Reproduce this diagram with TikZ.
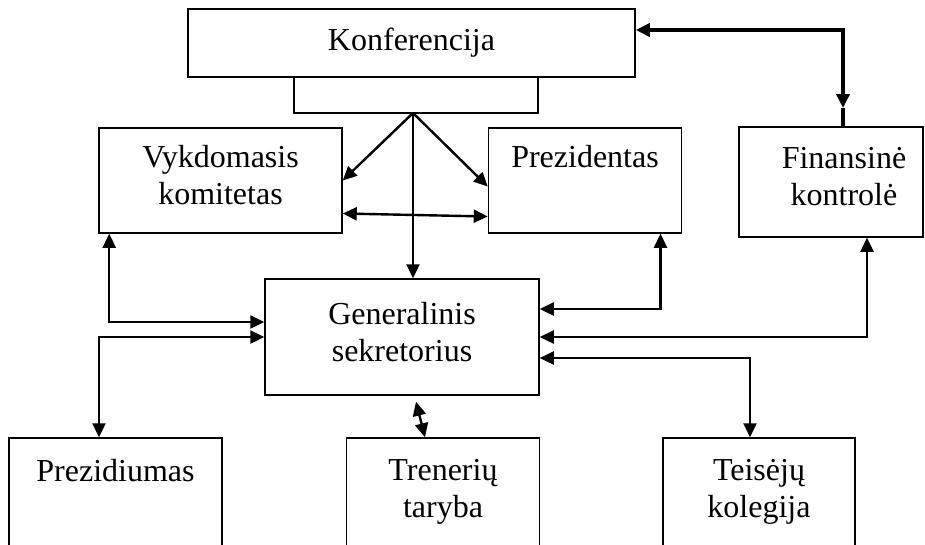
\documentclass[tikz,border=0pt]{standalone}
\usepackage{fontspec}
\setmainfont{Liberation Serif}
\usetikzlibrary{arrows.meta,positioning}

\begin{document}
\begin{tikzpicture}[
    x=1pt, y=-1pt,
    >={Triangle[length=14pt,width=13pt]},
    box/.style={rectangle, draw, line width=1.5pt, align=center, inner sep=0pt, font=\fontsize{32}{37}\selectfont},
    link/.style={line width=2.4pt, ->},
    both/.style={line width=2.4pt, <->},
    heavy/.style={line width=3.6pt},
    bracket/.style={line width=1.5pt},
]
    \useasboundingbox (0,0) rectangle (925,544);
    \clip (0,0) rectangle (925,544);

    \node[box, minimum width=447pt, minimum height=68pt] (konf) at (411.5,43) {Konferencija};
    \node[box, minimum width=243pt, minimum height=105pt] (vyk) at (220.5,180.5) {Vykdomasis\\komitetas\strut};
    \node[box, minimum width=193pt, minimum height=105pt, right=145pt of vyk] (prez) {Prezidentas\\\strut};
    \node[box, minimum width=184pt, minimum height=110pt] (fin) at (831,182) {\hspace*{26pt}Finansinė\\\hspace*{26pt}kontrolė\strut};
    \node[box, minimum width=274pt, minimum height=116pt] (gen) at (402,337) {Generalinis\\sekretorius\strut};
    \node[box, minimum width=213pt, minimum height=112pt] (prezd) at (115.5,494) {Prezidiumas\\\strut};
    \node[box, minimum width=193pt, minimum height=112pt, right=123pt of prezd] (tren) {Trenerių\\taryba\strut};
    \node[box, minimum width=192pt, minimum height=112pt, right=122pt of tren] (teis) {Teisėjų\\kolegija\strut};

    \coordinate (hub) at (413,113);
    \coordinate (brL) at (294,113);
    \coordinate (brR) at (538,113);
    \coordinate (finTip) at (843,108);

    \draw[bracket] (brL |- konf.south) -- (brL) -- (brR) -- (brR |- konf.south);
    \draw[link] (hub) -- (vyk.east);
    \draw[link] (hub) -- ([yshift=-6pt]prez.west);
    \draw[link] (hub) -- (hub |- gen.north);
    \draw[both] ([yshift=-33pt]vyk.east) -- ([yshift=-36pt]prez.west);

    \draw[heavy, <->] ([yshift=13pt]konf.east) -| (finTip);
    \draw[heavy] (finTip) -- (finTip |- fin.north);

    \draw[both] ([xshift=11pt]vyk.south west) |- ([yshift=15pt]gen.west);
    \draw[both] (gen.west) -| ([xshift=-16.5pt]prezd.north);
    \draw[both] ([yshift=28pt]gen.east) -| ([xshift=75.5pt]prez.south);
    \draw[both] (gen.east) -| ([xshift=36pt]fin.south);
    \draw[both] ([yshift=-21pt]gen.east) -| ([xshift=-9pt]teis.north);
    \draw[both] ([shift={(14pt,-6pt)}]gen.south) -- ([xshift=-18pt]tren.north);
\end{tikzpicture}
\end{document}
